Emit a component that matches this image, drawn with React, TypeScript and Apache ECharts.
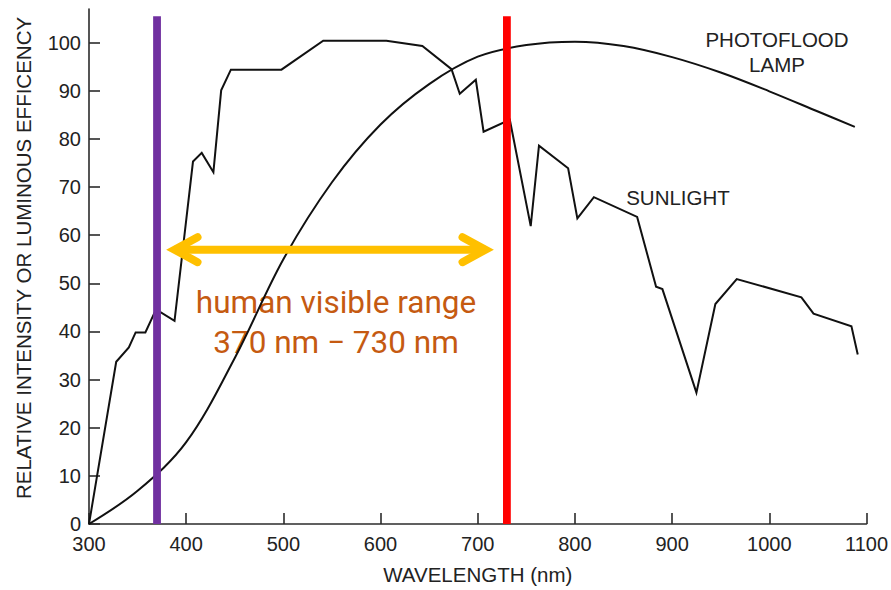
import React, { useEffect, useRef } from "react";
import * as echarts from "echarts";

// Wavelength axis (nm) and relative intensity axis
const X_MIN = 300;
const X_MAX = 1100;
const X_STEP = 100;
const Y_MIN = 0;
const Y_TOP = 107;
const yTickValues = [0, 10, 20, 30, 40, 50, 60, 70, 80, 90, 100];

// Solar spectrum, [wavelength nm, relative intensity]
const sunlight: [number, number][] = [
  [300, 0], [328, 33.7], [341, 36.7], [348, 39.8], [358, 39.8], [369, 44.6],
  [388, 42.2], [407, 75.3], [416, 77.1], [428, 73.1], [436, 90.1], [446, 94.4],
  [498, 94.4], [541, 100.4], [606, 100.4], [643, 99.3], [673, 94.5], [681.5, 89.4],
  [698, 92.3], [706, 81.5], [733, 84], [754.5, 61.9], [763, 78.6], [793, 73.9],
  [802.5, 63.5], [819.5, 67.9], [864, 63.8], [883.5, 49.3], [890, 48.8], [925, 27.3],
  [944.5, 45.7], [966.5, 50.9], [1033, 47.1], [1045.5, 43.7], [1084.5, 41.1], [1091, 35.2],
];

// Photoflood lamp emission, [wavelength nm, relative intensity]
const photofloodLamp: [number, number][] = [
  [300, 0], [350, 6.9], [400, 17], [450, 34.5], [500, 55], [550, 71], [600, 83],
  [650, 91.4], [700, 97.1], [750, 99.5], [800, 100.2], [850, 99.3], [900, 97],
  [950, 93.8], [1000, 89.9], [1050, 85.7], [1088, 82.5],
];

// Limits of the visible band (nm) and the double arrow spanning it
const visibleLimits = [370, 730];
const limitLineTop = 105.5;
const arrowEnds = [388, 708];
const arrowLevel = 57;

const limitColors = ["#7030A0", "#FF0000"];
const ink = "#222";
const labelFont = "'Liberation Sans', Arial, Helvetica, sans-serif";

const centered = { align: "center", verticalAlign: "middle", textAlign: "center", textVerticalAlign: "middle" };

export default function App() {
  const ref = useRef<HTMLDivElement>(null);

  useEffect(() => {
    const chart = echarts.init(ref.current!, null, { renderer: "svg" });
    chart.setOption({
      animation: false,
      backgroundColor: "#ffffff",
      grid: { left: 89, right: 24, top: 9, bottom: 61.5 },
      xAxis: {
        type: "value",
        min: X_MIN,
        max: X_MAX,
        interval: X_STEP,
        name: "WAVELENGTH (nm)",
        nameLocation: "middle",
        nameGap: 40,
        nameTextStyle: { fontFamily: labelFont, fontSize: 20.5, color: ink },
        axisLine: { show: true, onZero: false, lineStyle: { color: "#2b2b2b", width: 1.6 } },
        axisTick: { show: true, inside: true, length: 11, lineStyle: { color: "#2b2b2b", width: 1.6 } },
        axisLabel: {
          fontFamily: labelFont,
          fontSize: 20,
          color: ink,
          margin: 10,
          formatter: (v: number) => String(v),
        },
        splitLine: { show: false },
      },
      yAxis: {
        type: "value",
        min: Y_MIN,
        max: Y_TOP,
        axisLine: { show: true, lineStyle: { color: "#2b2b2b", width: 1.6 } },
        axisTick: {
          show: true,
          inside: true,
          length: 11,
          customValues: yTickValues,
          lineStyle: { color: "#2b2b2b", width: 1.6 },
        },
        axisLabel: {
          fontFamily: labelFont,
          fontSize: 20,
          color: ink,
          margin: 8,
          customValues: yTickValues,
          formatter: (v: number) => String(v),
        },
        splitLine: { show: false },
      },
      graphic: [
        {
          type: "text",
          x: 23,
          y: 258,
          rotation: Math.PI / 2,
          z: 1,
          style: {
            text: "RELATIVE INTENSITY OR LUMINOUS EFFICENCY",
            fontFamily: labelFont,
            fontSize: 20.5,
            fill: ink,
            ...centered,
          },
        },
        {
          type: "text",
          x: 777,
          y: 39,
          z: 1,
          style: { text: "PHOTOFLOOD", fontFamily: labelFont, fontSize: 20.5, fill: ink, ...centered },
        },
        {
          type: "text",
          x: 777,
          y: 64.5,
          z: 1,
          style: { text: "LAMP", fontFamily: labelFont, fontSize: 20.5, fill: ink, ...centered },
        },
        {
          type: "text",
          x: 678,
          y: 197,
          z: 1,
          style: { text: "SUNLIGHT", fontFamily: labelFont, fontSize: 20.5, fill: ink, ...centered },
        },
        {
          type: "text",
          x: 336,
          y: 302,
          z: 1,
          style: {
            text: "human visible range",
            fontFamily: "Roboto, sans-serif",
            fontSize: 31.5,
            fill: "#C55A11",
            ...centered,
          },
        },
        {
          type: "text",
          x: 336,
          y: 342,
          z: 1,
          style: {
            text: "370 nm \u2212 730 nm",
            fontFamily: "Roboto, sans-serif",
            fontSize: 31.5,
            fill: "#C55A11",
            ...centered,
          },
        },
      ],
      series: [
        {
          name: "Photoflood lamp",
          type: "line",
          data: photofloodLamp,
          smooth: 0.35,
          showSymbol: false,
          silent: true,
          z: 2,
          lineStyle: { color: "#111", width: 2 },
        },
        {
          name: "Sunlight",
          type: "line",
          data: sunlight,
          showSymbol: false,
          silent: true,
          z: 2,
          lineStyle: { color: "#111", width: 2, join: "miter" },
        },
        {
          name: "Visible limits",
          type: "custom",
          silent: true,
          z: 3,
          data: visibleLimits.map((v) => [v, limitLineTop]),
          encode: { x: 0, y: 1 },
          renderItem: (params: any, api: any) => {
            const bottom = api.coord([api.value(0), Y_MIN]);
            const top = api.coord([api.value(0), api.value(1)]);
            return {
              type: "line",
              shape: { x1: bottom[0], y1: bottom[1], x2: top[0], y2: top[1] },
              style: { stroke: limitColors[params.dataIndex], lineWidth: 7.8, fill: null },
            };
          },
        },
        {
          name: "Visible range arrow",
          type: "custom",
          silent: true,
          z: 4,
          data: [[arrowEnds[0], arrowEnds[1], arrowLevel]],
          encode: { x: [0, 1], y: 2 },
          renderItem: (params: any, api: any) => {
            const a = api.coord([api.value(0), api.value(2)]);
            const b = api.coord([api.value(1), api.value(2)]);
            const head = { stroke: "#FFC000", lineWidth: 8, fill: null, lineJoin: "miter", lineCap: "round" };
            return {
              type: "group",
              children: [
                {
                  type: "line",
                  shape: { x1: a[0], y1: a[1], x2: b[0], y2: b[1] },
                  style: { stroke: "#FFC000", lineWidth: 8, fill: null },
                },
                {
                  type: "polyline",
                  shape: { points: [[a[0] + 23, a[1] - 12.5], [a[0], a[1]], [a[0] + 23, a[1] + 12.5]] },
                  style: head,
                },
                {
                  type: "polyline",
                  shape: { points: [[b[0] - 23, b[1] - 12.5], [b[0], b[1]], [b[0] - 23, b[1] + 12.5]] },
                  style: head,
                },
              ],
            };
          },
        },
      ],
    });
    return () => chart.dispose();
  }, []);

  return (
    <div
      ref={ref}
      style={{ position: "fixed", left: 0, top: 0, width: 891, height: 590, background: "#fff" }}
    />
  );
}
